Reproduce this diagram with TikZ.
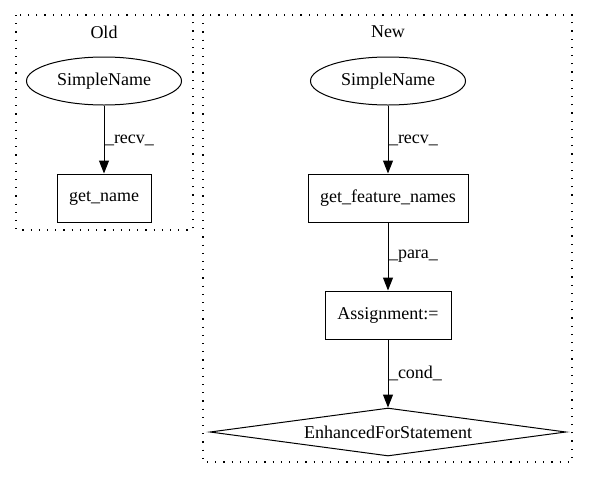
\documentclass[tikz,border=0pt]{standalone}
\usepackage{fontspec}
\setmainfont{Liberation Serif}
\usetikzlibrary{arrows.meta,shapes,positioning}
\tikzset{
  txt/.style={font=\fontsize{18}{22}\selectfont},
  elnode/.style={txt, draw, ellipse, line width=1pt, minimum width=155pt, minimum height=48pt, inner sep=0pt},
  boxnode/.style={txt, draw, rectangle, line width=1pt, minimum height=48pt, inner sep=0pt},
  dianode/.style={txt, draw, diamond, aspect=7.4, line width=1pt, minimum width=356pt, minimum height=48pt, inner sep=0pt},
  edge/.style={-{Triangle[length=13pt,width=10pt]}, line width=1pt},
  elabel/.style={txt, right, inner sep=0.5pt},
  cluster/.style={line width=1.2pt, dash pattern=on 1.2pt off 7pt},
}
\begin{document}
\begin{tikzpicture}[x=1pt,y=1pt]
\useasboundingbox (0,0) rectangle (589,-480);

% clusters
\draw[cluster] (16,-15) rectangle (193,-230);
\draw[cluster] (203,-15) rectangle (572,-462);
\node[txt] (oldl) at (104,-32) {Old};
\node[txt] (newl) at (388,-32) {New};

% old
\node[elnode] (osn) at (104,-81) {SimpleName};
\node[boxnode, minimum width=94pt, below=68pt of osn] (gn) {get\_name};

% new
\node[elnode] (nsn) at (388,-81) {SimpleName};
\node[boxnode, minimum width=160pt, below=68pt of nsn] (gfn) {get\_feature\_names};
\node[boxnode, minimum width=126pt, below=68pt of gfn] (asg) {Assignment:=};
\node[dianode, below=68pt of asg] (efs) {EnhancedForStatement};

\draw[edge] (osn) -- node[elabel, pos=0.52] {\_recv\_} (gn);
\draw[edge] (nsn) -- node[elabel, pos=0.52] {\_recv\_} (gfn);
\draw[edge] (gfn) -- node[elabel, pos=0.5] {\_para\_} (asg);
\draw[edge] (asg) -- node[elabel, pos=0.5] {\_cond\_} (efs);
\end{tikzpicture}
\end{document}
